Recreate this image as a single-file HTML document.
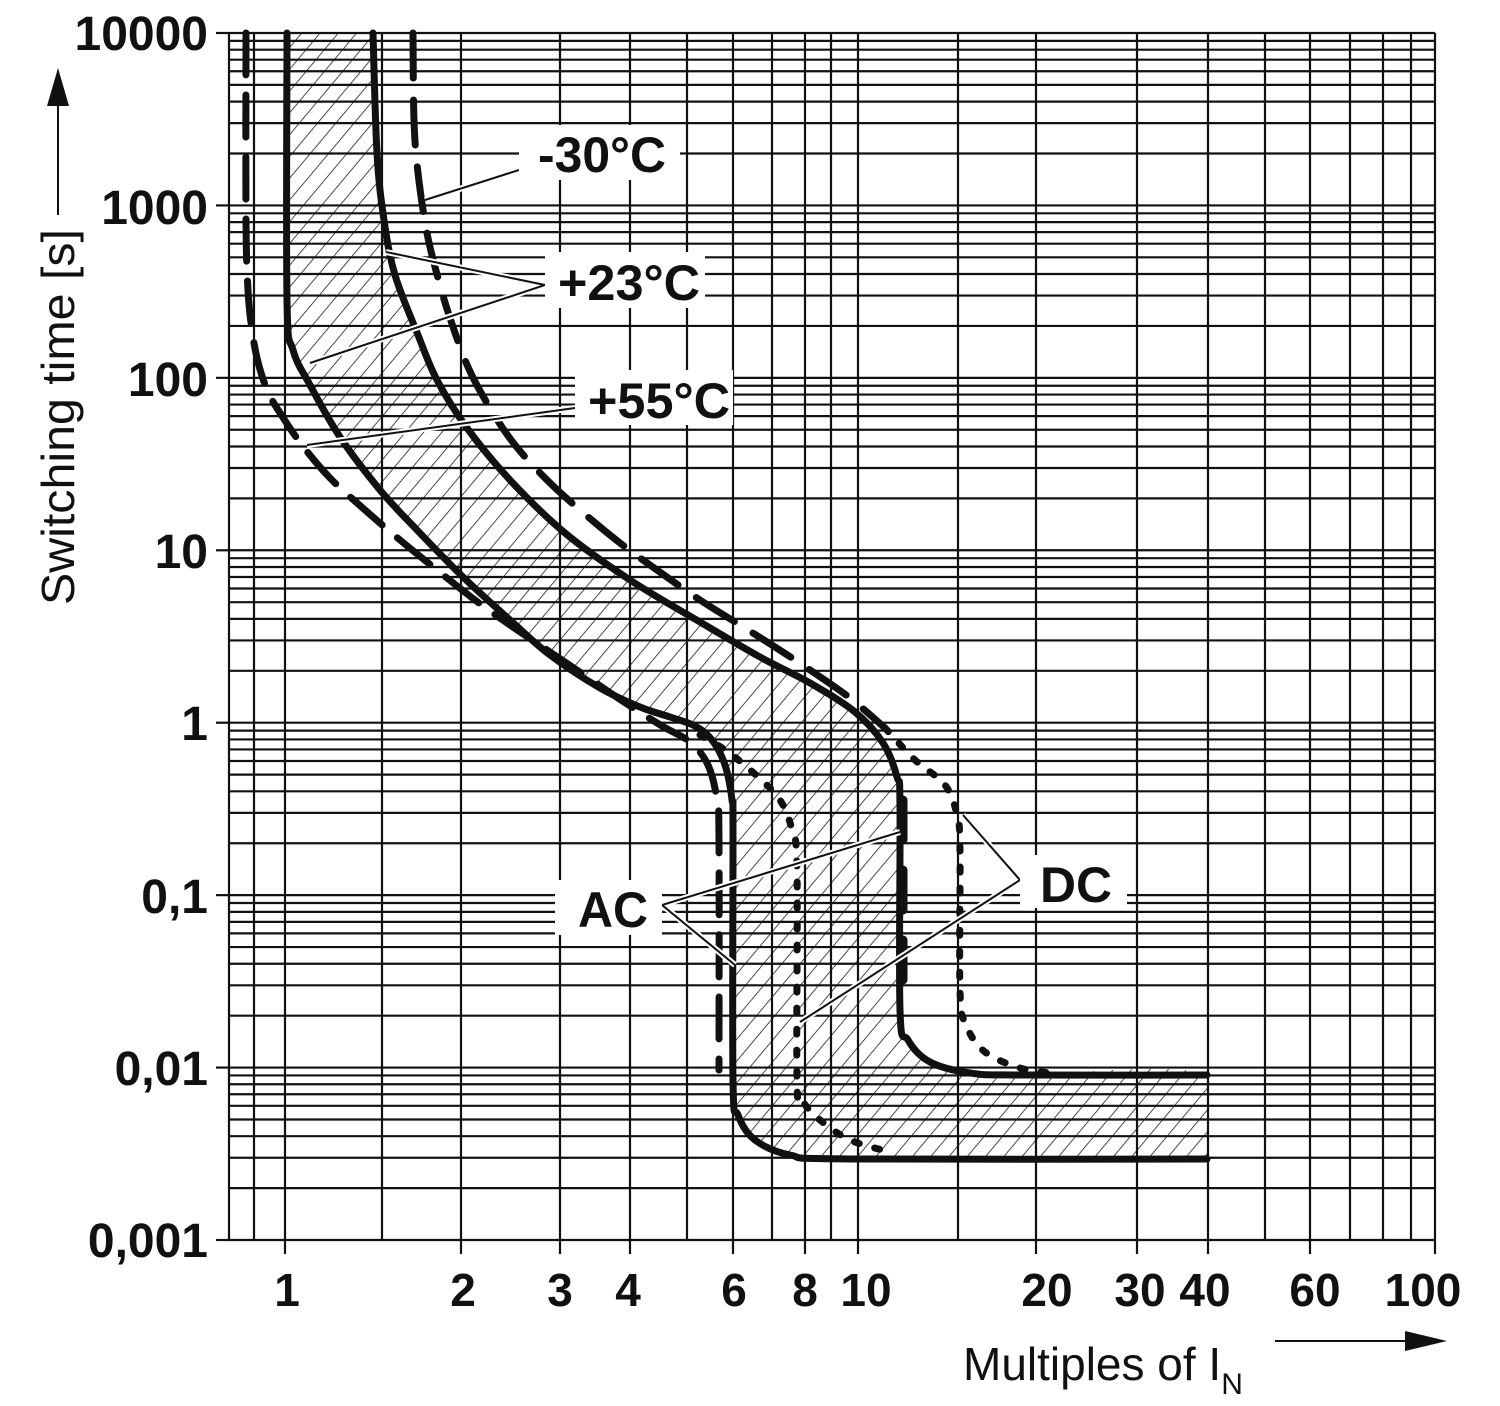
<!DOCTYPE html>
<html><head><meta charset="utf-8"><style>
html,body{margin:0;padding:0;background:#fff;}
svg{display:block;font-family:"Liberation Sans",Arial,sans-serif;}
</style></head><body>
<svg id="sv" width="1500" height="1406" viewBox="0 0 1500 1406" xmlns="http://www.w3.org/2000/svg">
<defs>
<pattern id="h" patternUnits="userSpaceOnUse" width="14" height="14" patternTransform="rotate(40)">
<line x1="0" y1="0" x2="0" y2="14" stroke="#111" stroke-width="1.5"/>
</pattern>
<clipPath id="band"><polygon class="s" points="287,33 287,300 293,350 310,385 340,437 380,490 417,530 463,577 510,620 550,655 600,688 640,707 670,717 695,726 712,740 725,765 732,800 733,830 733,1080 738,1115 755,1140 790,1155 850,1159 1207,1159 1207,1075 1020,1075 970,1073 930,1062 908,1040 900,1010 900,807 897,777 883,743 855,712 810,683 760,657 700,622 630,580 565,533 510,480 467,428 437,380 418,335 395,275 384,220 377,153 373,33"/></clipPath>
</defs>
<rect x="229" y="33" width="978" height="1126" fill="url(#h)" clip-path="url(#band)"/>
<g id="grid" stroke="#111" stroke-width="2.2" fill="none"></g>
<g fill="none" stroke="#111" stroke-linecap="round" stroke-linejoin="round">
<polyline class="s" stroke-width="7" points="287,33 287,300 293,350 310,385 340,437 380,490 417,530 463,577 510,620 550,655 600,688 640,707 670,717 695,726 712,740 725,765 732,800 733,830 733,1080 738,1115 755,1140 790,1155 850,1159 1207,1159"/>
<polyline class="s" stroke-width="7" points="373,33 377,153 384,220 395,275 418,335 437,380 467,428 510,480 565,533 630,580 700,622 760,657 810,683 855,712 883,743 897,777 900,807 900,1010 908,1040 930,1062 970,1073 1020,1075 1207,1075"/>
<polyline class="s" stroke-width="7" stroke-dasharray="45 22" points="413,33 414,120 418,173 427,233 438,278 450,318 468,367 490,408 515,445 547,480 580,510 620,543 657,570 700,600 740,625 775,647 813,672 850,698 885,728"/>
<polyline class="s" stroke-width="7" stroke-dasharray="42 20" points="246,33 246,220 248,290 252,330 258,362 268,392 282,416 302,445 330,478 365,510 400,540 437,570 475,600 510,625 550,652 590,679 627,704 662,726 690,742 708,765 717,800 719,840 719,1070"/>
<polyline class="s" stroke-width="7" stroke-dasharray="5 16" points="885,728 915,760 945,785 957,815 960,850 960,990 966,1025 985,1052 1020,1068 1050,1073"/>
<polyline class="s" stroke-width="7" stroke-dasharray="5 16" points="700,735 728,752 757,776 780,800 792,830 797,870 797,1080 802,1100 820,1120 850,1140 890,1152"/>
<polyline stroke-width="9" stroke-dasharray="40 30" points="903,800 903,1010"/>
</g>
<g stroke="#fff" stroke-width="6" fill="none">
<polyline points="519,170 425,200"/><polyline points="386,252 545,285 310,363"/>
<polyline points="575,408 307,445"/><polyline points="900,832 662,905 735,965"/>
<polyline points="963,815 1020,880 800,1022"/>
</g>
<g stroke="#111" stroke-width="2" fill="none">
<polyline points="519,170 425,200"/><polyline points="386,252 545,285 310,363"/>
<polyline points="575,408 307,445"/><polyline points="900,832 662,905 735,965"/>
<polyline points="963,815 1020,880 800,1022"/>
</g>
<g fill="#fff"><rect x="519" y="125" width="161" height="55"/><rect x="545" y="252" width="160" height="56"/><rect x="575" y="370" width="158" height="55"/><rect x="555" y="880" width="107" height="55"/><rect x="1020" y="855" width="107" height="53"/></g>
<g font-weight="bold" font-size="50" fill="#111">
<text x="538" y="172" textLength="128" lengthAdjust="spacingAndGlyphs">-30°C</text>
<text x="558" y="300" textLength="142" lengthAdjust="spacingAndGlyphs">+23°C</text>
<text x="588" y="418" textLength="142" lengthAdjust="spacingAndGlyphs">+55°C</text>
<text x="578" y="927" textLength="70" lengthAdjust="spacingAndGlyphs">AC</text>
<text x="1040" y="902" textLength="72" lengthAdjust="spacingAndGlyphs">DC</text>
</g>
<g font-weight="bold" font-size="48" fill="#111" text-anchor="end">
<text x="208" y="50">10000</text><text x="208" y="224">1000</text><text x="208" y="396">100</text><text x="208" y="568">10</text><text x="208" y="740">1</text><text x="208" y="913">0,1</text><text x="208" y="1085">0,01</text><text x="208" y="1257">0,001</text>
</g>
<g font-weight="bold" font-size="46" fill="#111" text-anchor="middle">
<text x="287" y="1306">1</text><text x="463" y="1306">2</text><text x="560" y="1306">3</text><text x="628" y="1306">4</text><text x="734" y="1306">6</text><text x="805" y="1306">8</text><text x="866" y="1306">10</text><text x="1047" y="1306">20</text><text x="1140" y="1306">30</text><text x="1205" y="1306">40</text><text x="1315" y="1306">60</text><text x="1423" y="1306">100</text>
</g>
<text x="963" y="1380" font-size="46" fill="#111">Multiples of I<tspan font-size="30" dy="14">N</tspan></text>
<line x1="1275" y1="1341" x2="1410" y2="1341" stroke="#111" stroke-width="2"/>
<polygon points="1405,1331 1447,1341 1405,1351" fill="#111"/>
<text transform="translate(74,605) rotate(-90)" font-size="46" fill="#111" textLength="376" lengthAdjust="spacingAndGlyphs">Switching time [s]</text>
<line x1="58" y1="215" x2="58" y2="100" stroke="#111" stroke-width="2"/>
<polygon points="47,106 58,68 69,106" fill="#111"/>
</svg>
<script>
(function(){
var g=document.getElementById('grid'),ns='http://www.w3.org/2000/svg';
function L(x1,y1,x2,y2){var l=document.createElementNS(ns,'line');l.setAttribute('x1',x1);l.setAttribute('y1',y1);l.setAttribute('x2',x2);l.setAttribute('y2',y2);g.appendChild(l);}
var xs=[229,254,285,382,461,560,630,687,733,772,805,831,858,958,1036,1137,1208,1265,1310,1350,1383,1411,1435];
xs.forEach(function(x){L(x,33,x,1240);});
[285,461,560,630,733,805,858,1036,1137,1208,1310,1435].forEach(function(x){L(x,1240,x,1254);});
for(var d=0;d<7;d++){for(var k=1;k<=9;k++){var y=1240-172.43*(d+Math.log10(k));L(229,y,1435,y);}}
L(229,33,1435,33);
for(var d=0;d<=7;d++){var y=1240-172.43*d;L(216,y,229,y);}
var els=document.querySelectorAll('.s');
for(var i=0;i<els.length;i++){
 var el=els[i],closed=el.tagName.toLowerCase()==='polygon';
 var p=el.getAttribute('points').trim().split(/\s+/).map(function(s){var a=s.split(',');return [+a[0],+a[1]];});
 var d='M'+p[0][0]+','+p[0][1];
 for(var j=0;j<p.length-1;j++){
  var p0=p[j-1]||p[j],p1=p[j],p2=p[j+1],p3=p[j+2]||p2;
  var c1=[p1[0]+(p2[0]-p0[0])/6,p1[1]+(p2[1]-p0[1])/6],c2=[p2[0]-(p3[0]-p1[0])/6,p2[1]-(p3[1]-p1[1])/6];
  d+=' C'+c1[0]+','+c1[1]+' '+c2[0]+','+c2[1]+' '+p2[0]+','+p2[1];
 }
 if(closed)d+=' Z';
 var np=document.createElementNS(ns,'path');
 for(var a=0;a<el.attributes.length;a++){var at=el.attributes[a];if(at.name!=='points'&&at.name!=='class')np.setAttribute(at.name,at.value);}
 np.setAttribute('d',d);
 el.parentNode.replaceChild(np,el);
}
})();
</script>
</body></html>
